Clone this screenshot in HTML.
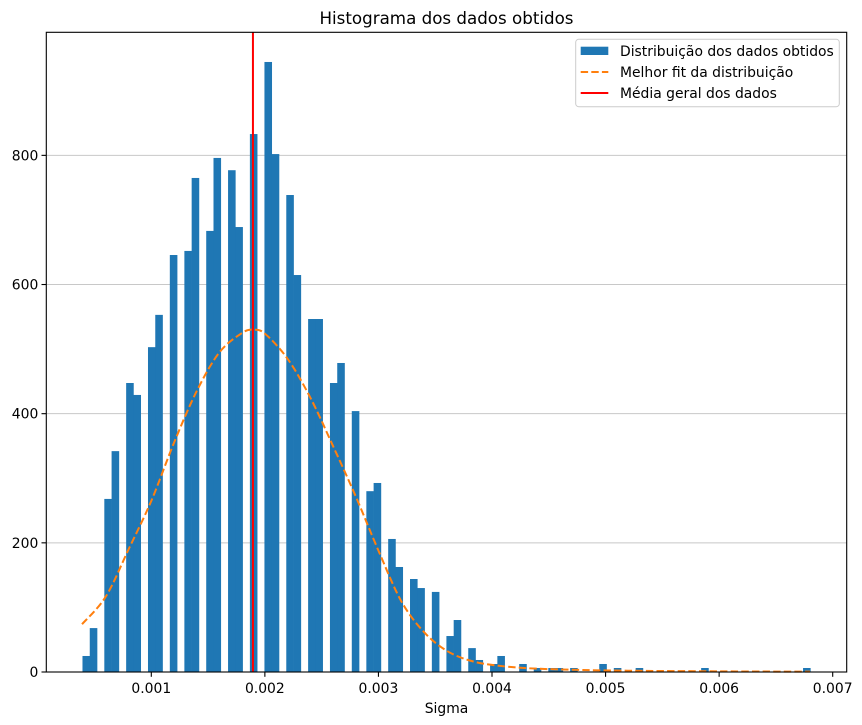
<!DOCTYPE html>
<html><head><meta charset="utf-8"><style>
html,body{margin:0;padding:0;background:#fff;}
svg{display:block;font-family:"DejaVu Sans","Liberation Sans",sans-serif;}
</style></head><body>
<svg id="chart" width="862" height="725" viewBox="0 0 862 725">
<text x="446.5" y="24" text-anchor="middle" font-size="16.7" fill="#000">Histograma dos dados obtidos</text>
<g id="grid"></g>
<g id="bars"></g>
<g id="fit"></g>
<g id="mean"></g>
<rect x="46.3" y="32.3" width="800.4" height="639.7" fill="none" stroke="#000" stroke-width="1.1"/>
<g id="xticks"></g>
<g id="yticks"></g>
<text x="446.5" y="713" text-anchor="middle" font-size="13.9" fill="#000">Sigma</text>
<g>
<rect x="575.7" y="39.3" width="263.6" height="67.4" rx="3" fill="#fff" fill-opacity="0.8" stroke="#ccc" stroke-width="1"/>
<rect x="580.7" y="46.7" width="27.6" height="8.3" fill="#1f77b4"/>
<text x="620" y="56" font-size="13.9" fill="#000">Distribuição dos dados obtidos</text>
<line x1="580.7" y1="72" x2="608.3" y2="72" stroke="#ff7f0e" stroke-width="2" stroke-dasharray="7.4,3.2"/>
<text x="620" y="77" font-size="13.9" fill="#000">Melhor fit da distribuição</text>
<line x1="580.7" y1="93" x2="608.3" y2="93" stroke="#ff0000" stroke-width="2"/>
<text x="620" y="98" font-size="13.9" fill="#000">Média geral dos dados</text>
</g>
</svg>
<script>
const binCounts = [24.8,68,0,268,342,0,447.5,429,0,503,553,0,645.7,0,652,765,0,683,796,0,777,689,0,833,0,944.6,802,0,738.6,614.7,0,546.6,546.6,0,447.5,478.5,0,404,0,280,292.7,0,206,162.6,0,144,130,0,124,0,55.7,80.5,0,37,18.6,0,12.4,24.8,0,0,12.4,0,6.2,0,6.2,6.2,0,6.2,0,0,0,12.4,0,6.2,0,0,6.2,0,0,0,0,0,0,0,0,6.2,0,0,0,0,0,0,0,0,0,0,0,0,0,6.2];
const dataMin = 0.000394;
const dataMax = 0.006803;
const fitX = [0.00039,0.0006,0.0008,0.001,0.0012,0.0014,0.0016,0.0018,0.0019,0.002,0.0022,0.0024,0.0026,0.0028,0.003,0.0032,0.0034,0.0036,0.0038,0.004,0.0043,0.0047,0.0052,0.006,0.0068];
const fitY = [74,117,190,265,355,435,495,525,530,524,485,425,350,272,188,110,62,33,18,11,6,3.5,2,1,0.5];
const meanValue = 0.001895;
const xTickValues = [0.001,0.002,0.003,0.004,0.005,0.006,0.007];
const xTickLabels = ["0.001","0.002","0.003","0.004","0.005","0.006","0.007"];
const yTickValues = [0,200,400,600,800];
const yTickLabels = ["0","200","400","600","800"];

const NS = "http://www.w3.org/2000/svg";
const plotL = 46.3, plotR = 846.7, plotT = 32.3, plotB = 672;
function xs(v){ return 151.3 + (v - 0.001) * 113567; }
function ys(c){ return plotB - c * 0.6458; }
function mk(tag, attrs, parent){ const e=document.createElementNS(NS,tag); for(const k in attrs) e.setAttribute(k,attrs[k]); parent.appendChild(e); return e; }

const grid = document.getElementById('grid');
yTickValues.forEach((v,i)=>{
  if (v===0) return;
  const l = mk('line',{x1:plotL,x2:plotR,y1:ys(v),y2:ys(v),stroke:'#c8c8c8','stroke-width':1},grid);
  
  
});

const bars = document.getElementById('bars');
const bw = (dataMax - dataMin) / binCounts.length;
binCounts.forEach((c,i)=>{
  if (c<=0) return;
  const x0 = xs(dataMin + i*bw), x1 = xs(dataMin + (i+1)*bw);
  const r = mk('rect',{x:x0,y:ys(c),width:x1-x0+0.3,height:plotB-ys(c),fill:'#1f77b4'},bars);
  
  
});

// smooth path through fit points (Catmull-Rom)
const pts = fitX.map((v,i)=>[xs(v), ys(fitY[i])]);
let d = 'M'+pts[0][0]+','+pts[0][1];
for (let i=0;i<pts.length-1;i++){
  const p0=pts[Math.max(0,i-1)], p1=pts[i], p2=pts[i+1], p3=pts[Math.min(pts.length-1,i+2)];
  const c1=[p1[0]+(p2[0]-p0[0])/6, p1[1]+(p2[1]-p0[1])/6];
  const c2=[p2[0]-(p3[0]-p1[0])/6, p2[1]-(p3[1]-p1[1])/6];
  d += ' C'+c1[0]+','+c1[1]+' '+c2[0]+','+c2[1]+' '+p2[0]+','+p2[1];
}
const fitPath = mk('path',{d:d,fill:'none',stroke:'#ff7f0e','stroke-width':2,'stroke-dasharray':'7.4,3.2'},document.getElementById('fit'));



const ml = mk('line',{x1:xs(meanValue),x2:xs(meanValue),y1:plotT,y2:plotB,stroke:'#ff0000','stroke-width':2},document.getElementById('mean'));



const xt = document.getElementById('xticks');
xTickValues.forEach((v,i)=>{
  const x=xs(v);
  const t = mk('line',{x1:x,x2:x,y1:plotB,y2:plotB+4.8,stroke:'#000','stroke-width':1.1},xt);
  
  
  const lb = mk('text',{x:x,y:plotB+21,'text-anchor':'middle','font-size':13.9,fill:'#000'},xt);
  lb.textContent = xTickLabels[i];
  
  
});
const yt = document.getElementById('yticks');
yTickValues.forEach((v,i)=>{
  const y=ys(v);
  const t = mk('line',{x1:plotL-4.8,x2:plotL,y1:y,y2:y,stroke:'#000','stroke-width':1.1},yt);
  
  
  const lb = mk('text',{x:plotL-8,y:y+5,'text-anchor':'end','font-size':13.9,fill:'#000'},yt);
  lb.textContent = yTickLabels[i];
  
  
});
</script>
</body></html>
